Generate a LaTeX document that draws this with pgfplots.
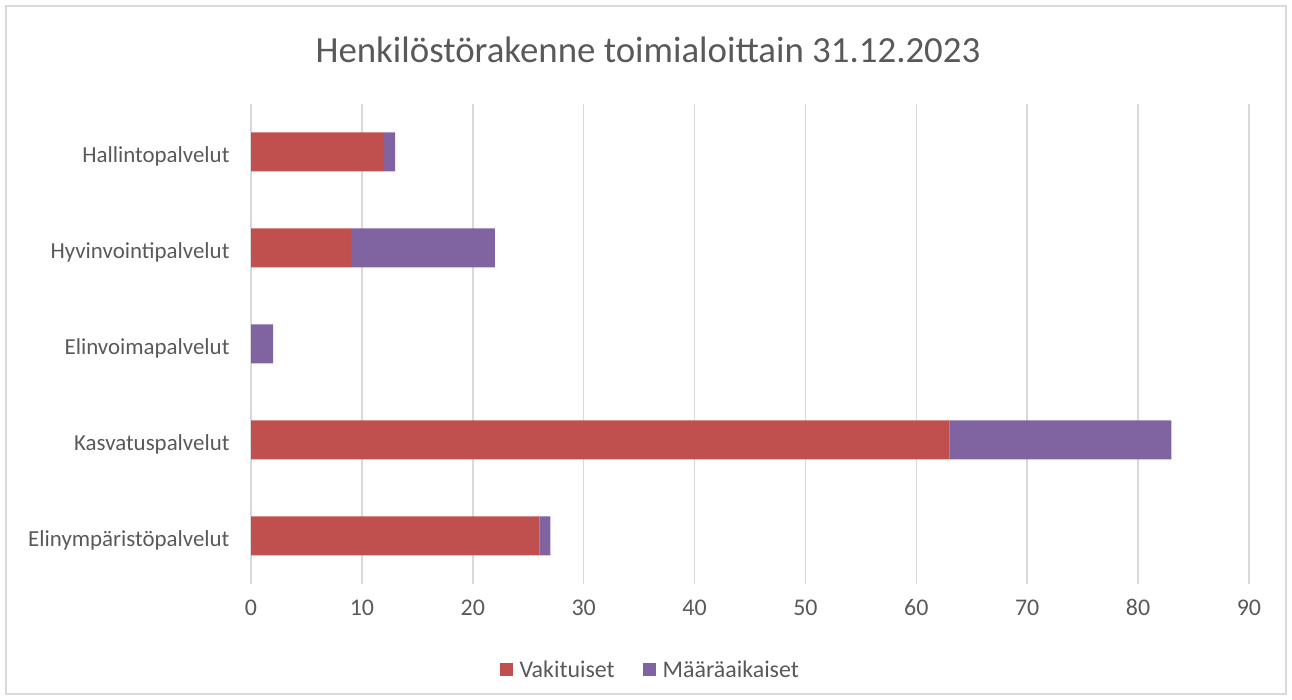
\documentclass[border=0pt]{standalone}
\usepackage{fontspec}
\setmainfont{Carlito}
\usepackage{pgfplots}
\pgfplotsset{compat=1.18}
\definecolor{vak}{HTML}{C0504D}
\definecolor{maa}{HTML}{8064A2}
\definecolor{txt}{HTML}{595959}
\definecolor{grd}{HTML}{D9D9D9}
\begin{document}
\begin{tikzpicture}[x=1bp,y=1bp]
\path[use as bounding box] (0,0) rectangle (1292,700);
\draw[grd, line width=1.5bp] (6,6) rectangle (1286,694);
\node[txt, font=\fontsize{37}{42}\selectfont] at (648,650) {Henkilöstörakenne toimialoittain 31.12.2023};
\begin{axis}[
  at={(251bp,116bp)}, anchor=south west,
  scale only axis, width=998bp, height=480bp,
  xbar stacked, bar width=39bp,
  xmin=0, xmax=90, xtick={0,10,...,90},
  ymin=-0.5, ymax=4.5, ytick={0,1,2,3,4},
  yticklabels={Elinympäristöpalvelut,Kasvatuspalvelut,Elinvoimapalvelut,Hyvinvointipalvelut,Hallintopalvelut},
  xmajorgrids, grid style={grd, line width=1.5bp},
  axis x line*=bottom, axis y line*=left,
  x axis line style={draw=none},
  y axis line style={grd, line width=1.5bp},
  tick style={draw=none},
  tick label style={txt},
  /pgf/number format/assume math mode=true,
  xticklabel style={font=\fontsize{24}{28}\selectfont, yshift=-12bp},
  yticklabel style={font=\fontsize{23}{27}\selectfont, xshift=-18bp, yshift=-4bp},
  legend style={at={(0.4,-0.18)}, anchor=center, draw=none, legend columns=2,
    font=\fontsize{24}{28}\selectfont, text=txt,
    /tikz/every odd column/.append style={column sep=5bp},
    /tikz/every even column/.append style={column sep=26bp}},
  legend image code/.code={\fill[#1] (0bp,-6bp) rectangle (13bp,7bp);},
]
\addplot[fill=vak, draw=none] coordinates {(26,0) (63,1) (0,2) (9,3) (12,4)};
\addplot[fill=maa, draw=none] coordinates {(1,0) (20,1) (2,2) (13,3) (1,4)};
\legend{Vakituiset, Määräaikaiset}
\end{axis}
\end{tikzpicture}
\end{document}
